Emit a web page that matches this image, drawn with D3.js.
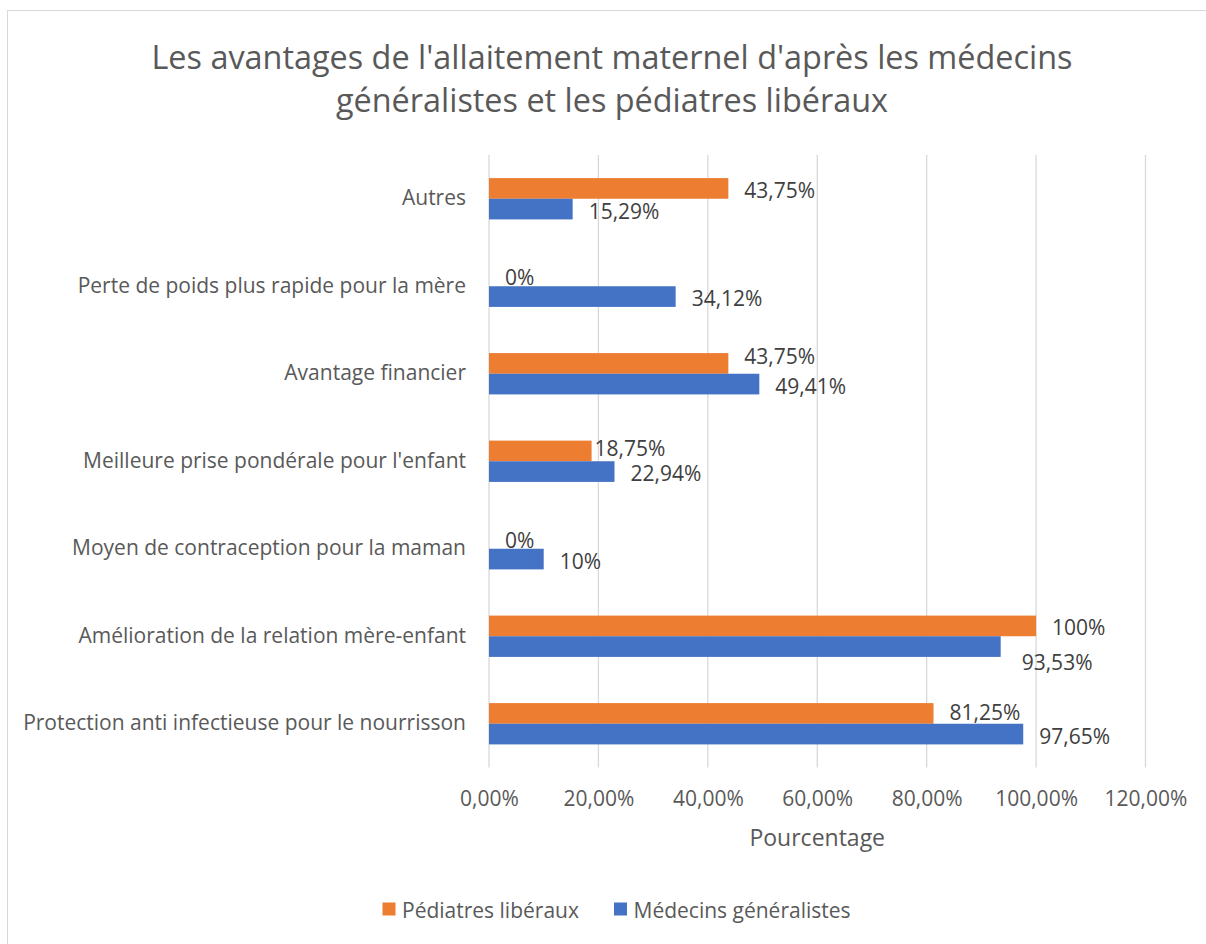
<!DOCTYPE html>
<html lang="fr">
<head>
<meta charset="utf-8">
<title>Avantages de l'allaitement maternel</title>
<script src="https://cdn.jsdelivr.net/npm/d3@7"></script>
<style>
  html, body { margin: 0; padding: 0; background: #fff; }
  svg text { font-family: "Open Sans", "Noto Sans", sans-serif; }
</style>
</head>
<body>
<div id="graphique"></div>
<script>
// Données (en pourcentage)
var categories = [
    "Autres",
    "Perte de poids plus rapide pour la mère",
    "Avantage financier",
    "Meilleure prise pondérale pour l'enfant",
    "Moyen de contraception pour la maman",
    "Amélioration de la relation mère-enfant",
    "Protection anti infectieuse pour le nourrisson"
];
var series = ["Pédiatres libéraux", "Médecins généralistes"];
var pediatres = [43.75, 0, 43.75, 18.75, 0, 100, 81.25];
var medecins = [15.29, 34.12, 49.41, 22.94, 10, 93.53, 97.65];
var ticksX = [0, 20, 40, 60, 80, 100, 120];

var titre = ["Les avantages de l'allaitement maternel d'après les médecins",
             "généralistes et les pédiatres libéraux"];

// petits décalages manuels des étiquettes (comme dans le fichier Excel)
var decalages = {
    "Avantage financier|Pédiatres libéraux": [0, -9],
    "Meilleure prise pondérale pour l'enfant|Pédiatres libéraux": [-13, -4],
    "Amélioration de la relation mère-enfant|Médecins généralistes": [5, 14],
    "Protection anti infectieuse pour le nourrisson|Pédiatres libéraux": [0, -3]
};

const WIDTH = 1206;
const HEIGHT = 944;
var couleurs = { "Pédiatres libéraux": "#ED7D31", "Médecins généralistes": "#4472C4" };

var locale = d3.formatLocale({ decimal: ",", thousands: " ", grouping: [3], currency: ["", " €"] });
var fmtTick = locale.format(".2%");
var fmtLabel = locale.format(".4~%");

var data = categories.map(function (c, i) {
    return { categorie: c, valeurs: [
        { serie: series[0], v: pediatres[i] / 100 },
        { serie: series[1], v: medecins[i] / 100 }
    ] };
});

var svg = d3.select("#graphique").append("svg")
    .attr("width", WIDTH)
    .attr("height", HEIGHT);

// cadre du graphique
svg.append("rect")
    .attr("x", 7.5).attr("y", 10.5)
    .attr("width", WIDTH).attr("height", HEIGHT)
    .attr("fill", "none")
    .attr("stroke", "#D9D9D9");

// titre
svg.append("g").selectAll("text")
    .data(titre)
    .enter()
    .append("text")
    .attr("x", 612)
    .attr("y", function (d, i) { return 69 + i * 43; })
    .attr("text-anchor", "middle")
    .style("font-size", "32.4px")
    .style("fill", "#595959")
    .text(function (d) { return d; });

var marge = { haut: 155, bas: 767.5, gauche: 489, droite: 1145.5 };

var x = d3.scaleLinear()
    .domain([0, 1.2])
    .range([marge.gauche, marge.droite]);

var y0 = d3.scaleBand()
    .domain(categories)
    .range([marge.haut, marge.bas])
    .paddingInner(0.528)
    .paddingOuter(0.264);

var y1 = d3.scaleBand()
    .domain(series)
    .range([0, y0.bandwidth()]);

// grille verticale
svg.append("g").selectAll("line")
    .data(ticksX)
    .enter()
    .append("line")
    .attr("x1", function (d) { return x(d / 100); })
    .attr("x2", function (d) { return x(d / 100); })
    .attr("y1", marge.haut)
    .attr("y2", marge.bas)
    .attr("stroke", "#D9D9D9")
    .attr("stroke-width", 1.3);

// axe des x
var axeX = svg.append("g")
    .attr("transform", "translate(0," + marge.bas + ")")
    .call(d3.axisBottom(x)
        .tickValues(ticksX.map(function (d) { return d / 100; }))
        .tickFormat(fmtTick)
        .tickSize(0)
        .tickPadding(23.5));
axeX.select(".domain").remove();
axeX.selectAll("text")
    .style("font-size", "21px")
    .style("fill", "#595959");

svg.append("text")
    .attr("x", (marge.gauche + marge.droite) / 2)
    .attr("y", 846)
    .attr("text-anchor", "middle")
    .style("font-size", "23px")
    .style("fill", "#595959")
    .text("Pourcentage");

// axe des catégories
var axeY = svg.append("g")
    .attr("transform", "translate(" + marge.gauche + ",0)")
    .call(d3.axisLeft(y0).tickSize(0).tickPadding(23));
axeY.select(".domain").remove();
axeY.selectAll("text")
    .style("font-size", "21px")
    .style("fill", "#595959");

// barres
var groupes = svg.append("g").selectAll("g")
    .data(data)
    .enter()
    .append("g")
    .attr("transform", function (d) { return "translate(0," + y0(d.categorie) + ")"; });

groupes.selectAll("rect")
    .data(function (d) { return d.valeurs; })
    .enter()
    .append("rect")
    .attr("x", x(0))
    .attr("y", function (d) { return y1(d.serie); })
    .attr("width", function (d) { return x(d.v) - x(0); })
    .attr("height", y1.bandwidth())
    .attr("fill", function (d) { return couleurs[d.serie]; });

// étiquettes de données
groupes.selectAll("text")
    .data(function (d) { return d.valeurs.map(function (v) { return { categorie: d.categorie, serie: v.serie, v: v.v }; }); })
    .enter()
    .append("text")
    .attr("x", function (d) {
        var dec = decalages[d.categorie + "|" + d.serie] || [0, 0];
        return x(d.v) + 16 + dec[0];
    })
    .attr("y", function (d) {
        var dec = decalages[d.categorie + "|" + d.serie] || [0, 0];
        return y1(d.serie) + y1.bandwidth() / 2 + 1.5 + dec[1];
    })
    .attr("dominant-baseline", "central")
    .style("font-size", "21px")
    .style("fill", "#404040")
    .text(function (d) { return fmtLabel(d.v); });

// légende
var legende = svg.append("g").selectAll("g")
    .data(series)
    .enter()
    .append("g")
    .attr("transform", function (d, i) { return "translate(" + (i == 0 ? 382.5 : 614) + ",902.5)"; });

legende.append("rect")
    .attr("width", 13)
    .attr("height", 13)
    .attr("fill", function (d) { return couleurs[d]; });

legende.append("text")
    .attr("x", 19.5)
    .attr("y", 7)
    .attr("dominant-baseline", "central")
    .style("font-size", "21px")
    .style("fill", "#595959")
    .text(function (d) { return d; });
</script>
</body>
</html>
